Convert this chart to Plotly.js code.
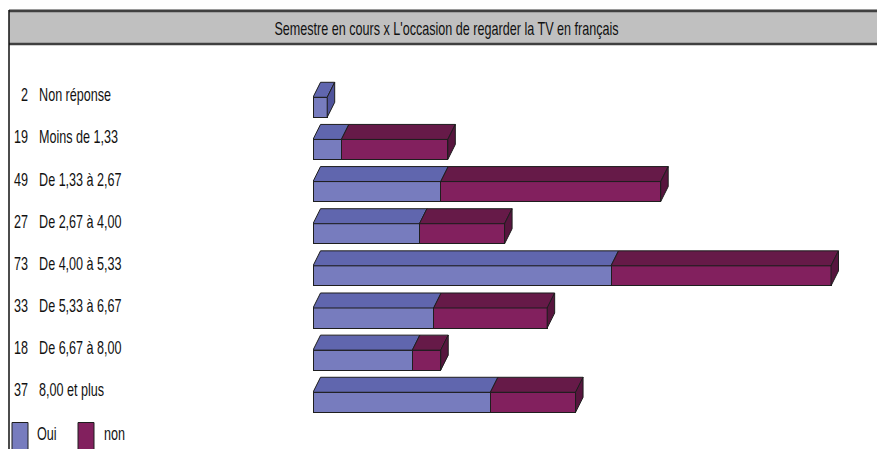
<!DOCTYPE html>
<html><head><meta charset="utf-8">
<script src="https://cdn.plot.ly/plotly-3.0.1.min.js"></script>
<style>html,body{margin:0;padding:0;background:#fff;overflow:hidden}#chart{width:877px;height:449px}</style>
</head><body><div id="chart"></div>
<script>
const categories = ["Non réponse","Moins de 1,33","De 1,33 à 2,67","De 2,67 à 4,00","De 4,00 à 5,33","De 5,33 à 6,67","De 6,67 à 8,00","8,00 et plus"];
const counts = [2,19,49,27,73,33,18,37];
const oui = [2,4,18,15,42,17,14,25];
const non = [0,15,31,12,31,16,4,12];
const seriesNames = ["Oui","non"];
const titleText = "Semestre en cours x L'occasion de regarder la TV en français";

const W=877,H=449;
const M = {l:313, r:0, t:50, b:0};
const pw = W-M.l-M.r, ph = H-M.t-M.b;
const pxPerUnit = 7.096;
const xMax = pw/pxPerUnit;
const rowPx = 42.14;
const firstRowPx = 107.3;
const yTopVal = -(firstRowPx - M.t)/rowPx;
const yBotVal = yTopVal + ph/rowPx;
const barW = 0.475;
const depthX = 7.5/pxPerUnit, depthY = 15/rowPx;
const narrow = 0.70;
const fsize = 18;

const colors = {
  front:["#777CBE","#82205E"],
  top:["#6066AE","#661A48"],
  side:["#4F539B","#57153E"]
};
const edge="#1e1e1e";
const font="'Liberation Sans', Arial, sans-serif";
const px2xp = p => (p - M.l)/pw;
const py2yp = p => (H - M.b - p)/ph;

const idx = categories.map((_,i)=>i);
const series = [oui, non];
const traces = series.map((vals,s)=>({
  type:'bar', orientation:'h', y:idx, x:vals, width:barW, name:seriesNames[s],
  marker:{color:colors.front[s], line:{color:edge,width:1}}, showlegend:false, hoverinfo:'skip'
}));

const shapes=[];
// title bar
shapes.push({type:'rect',xref:'paper',yref:'paper',x0:px2xp(9),x1:px2xp(W+5),y0:py2yp(44),y1:py2yp(11),fillcolor:'#c0c0c0',line:{width:0},layer:'below'});
shapes.push({type:'line',xref:'paper',yref:'paper',x0:px2xp(9),x1:px2xp(W+5),y0:py2yp(9.5),y1:py2yp(9.5),line:{color:'#b8b8b8',width:1}});
shapes.push({type:'line',xref:'paper',yref:'paper',x0:px2xp(9),x1:px2xp(W+5),y0:py2yp(11),y1:py2yp(11),line:{color:'#404040',width:2.5}});
shapes.push({type:'line',xref:'paper',yref:'paper',x0:px2xp(9),x1:px2xp(W+5),y0:py2yp(44),y1:py2yp(44),line:{color:'#404040',width:2.5}});
shapes.push({type:'line',xref:'paper',yref:'paper',x0:px2xp(9),x1:px2xp(9),y0:py2yp(10),y1:py2yp(H+2),line:{color:'#111',width:1.5}});

// 3D faces computed from data
idx.forEach(i=>{
  const segs=[[0,oui[i],0],[oui[i],oui[i]+non[i],1]].filter(s=>s[1]>s[0]);
  const yT=i-barW/2, yB=i+barW/2;
  segs.forEach(([a,b,s],k)=>{
    shapes.push({type:'path',xref:'x',yref:'y',
      path:`M${a},${yT}L${a+depthX},${yT-depthY}L${b+depthX},${yT-depthY}L${b},${yT}Z`,
      fillcolor:colors.top[s],line:{color:edge,width:1}});
    if(k===segs.length-1){
      shapes.push({type:'path',xref:'x',yref:'y',
        path:`M${b},${yT}L${b+depthX},${yT-depthY}L${b+depthX},${yB-depthY}L${b},${yB}Z`,
        fillcolor:colors.side[s],line:{color:edge,width:1}});
    }
  });
});

// legend boxes
const legBoxX=[[12,28],[78,94]];
const legTextX=[35,102];
legBoxX.forEach(([a,b],s)=>{
  shapes.push({type:'rect',xref:'paper',yref:'paper',x0:px2xp(a),x1:px2xp(b),y0:py2yp(H+2),y1:py2yp(422.5),fillcolor:colors.front[s],line:{color:edge,width:1}});
});

const txtFont={family:font,size:fsize,color:'#111'};
const annotations=[];
idx.forEach(i=>{
  annotations.push({xref:'paper',yref:'y',x:px2xp(29.5),y:i,yshift:12,xanchor:'right',yanchor:'middle',showarrow:false,text:String(counts[i]),font:txtFont});
  annotations.push({xref:'paper',yref:'y',x:px2xp(36.5),y:i,yshift:12,xanchor:'left',yanchor:'middle',showarrow:false,text:categories[i],font:txtFont});
});
seriesNames.forEach((n,s)=>{
  annotations.push({xref:'paper',yref:'paper',x:px2xp(legTextX[s]),y:py2yp(434),xanchor:'left',yanchor:'middle',showarrow:false,text:n,font:txtFont});
});

const layout={
  width:W,height:H,margin:M,paper_bgcolor:'#fff',plot_bgcolor:'rgba(0,0,0,0)',
  barmode:'stack',showlegend:false,
  title:{text:titleText,font:txtFont,x:446.5/W,xref:'container',xanchor:'center',y:1-29/H,yref:'container',yanchor:'middle'},
  xaxis:{range:[0,xMax],visible:false,fixedrange:true},
  yaxis:{range:[yBotVal,yTopVal],visible:false,fixedrange:true},
  shapes:shapes,annotations:annotations
};

function condense(t, mode){
  const bb=t.getBBox();
  const px = mode==='right'? bb.x+bb.width : mode==='left'? bb.x : bb.x+bb.width/2;
  const prev=t.getAttribute('transform')||'';
  t.setAttribute('transform',`translate(${px},0) scale(${narrow},1) translate(${-px},0) ${prev}`);
}
Plotly.newPlot('chart',traces,layout,{staticPlot:true,displayModeBar:false}).then(()=>{
  document.querySelectorAll('g.annotation').forEach(g=>{
    const i=+g.getAttribute('data-index');
    const t=g.querySelector('text.annotation-text');
    if(t && annotations[i]) condense(t, annotations[i].xanchor);
  });
  const tt=document.querySelector('text.gtitle');
  if(tt) condense(tt,'center');
});
</script></body></html>
